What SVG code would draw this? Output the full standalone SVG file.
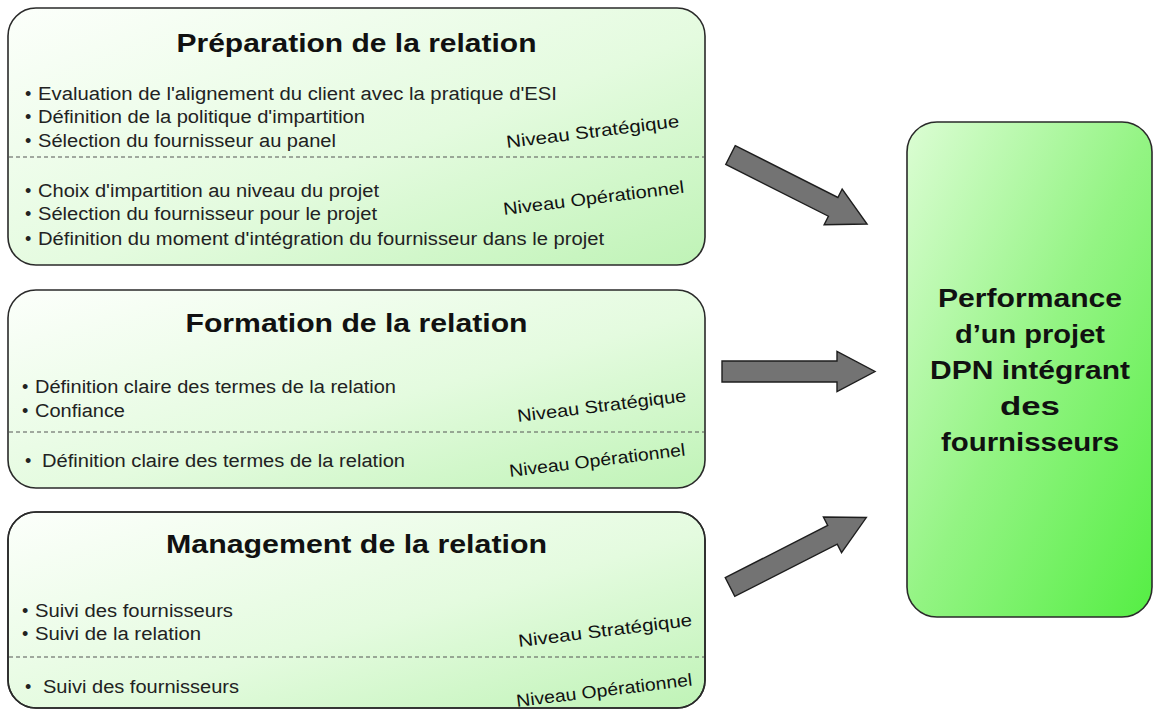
<svg xmlns="http://www.w3.org/2000/svg" width="1155" height="710" viewBox="0 0 1155 710">
<defs>
<style>
.box{stroke:#2a2a2a;stroke-width:1.6}
.lbox{fill:url(#gL)}
.title{font-family:"Liberation Sans",Arial,sans-serif;font-weight:bold;font-size:25px;fill:#111;text-anchor:middle}
.item{font-family:"Liberation Sans",Arial,sans-serif;font-size:18px;fill:#222}
.niv{font-family:"Liberation Sans",Arial,sans-serif;font-size:17.5px;fill:#111}
.dash{stroke:#555;stroke-width:1;stroke-dasharray:4 3;fill:none}
.big{font-family:"Liberation Sans",Arial,sans-serif;font-weight:bold;font-size:25px;fill:#111;text-anchor:middle}
.arrow{fill:#737373;stroke:#1e1e1e;stroke-width:1.4;stroke-linejoin:miter}
</style>
<linearGradient id="gL" x1="0" y1="0" x2="1" y2="1">
<stop offset="0" stop-color="#fcfffb"/>
<stop offset="0.55" stop-color="#e4fbdf"/>
<stop offset="1" stop-color="#bff3b6"/>
</linearGradient>
<linearGradient id="gR" x1="0" y1="0" x2="1" y2="1">
<stop offset="0" stop-color="#dcfdd4"/>
<stop offset="0.5" stop-color="#94f484"/>
<stop offset="1" stop-color="#55ee44"/>
</linearGradient>
<path id="arr" d="M0,-10.5 L115,-10.5 L115,-20 L153,0 L115,20 L115,10.5 L0,10.5 Z"/>
<clipPath id="c3"><rect x="8" y="512" width="697" height="196" rx="28"/></clipPath>
</defs>

<g id="preparation">
<rect class="box lbox" x="8" y="8" width="697" height="257" rx="28"/>
<text class="title" x="356.5" y="52" textLength="360" lengthAdjust="spacingAndGlyphs">Préparation de la relation</text>
<text class="item" x="25" y="100">•</text>
<text class="item" x="38" y="100" textLength="519" lengthAdjust="spacingAndGlyphs">Evaluation de l'alignement du client avec la pratique d'ESI</text>
<text class="item" x="25" y="123">•</text>
<text class="item" x="38" y="123" textLength="327" lengthAdjust="spacingAndGlyphs">Définition de la politique d'impartition</text>
<text class="item" x="25" y="147">•</text>
<text class="item" x="38" y="147" textLength="298" lengthAdjust="spacingAndGlyphs">Sélection du fournisseur au panel</text>
<text class="niv" x="507" y="148" transform="rotate(-7 507 148)" textLength="174" lengthAdjust="spacingAndGlyphs">Niveau Stratégique</text>
<line class="dash" x1="9" y1="157" x2="704" y2="157"/>
<text class="item" x="25" y="197">•</text>
<text class="item" x="38" y="197" textLength="341" lengthAdjust="spacingAndGlyphs">Choix d'impartition au niveau du projet</text>
<text class="item" x="25" y="220">•</text>
<text class="item" x="38" y="220" textLength="339" lengthAdjust="spacingAndGlyphs">Sélection du fournisseur pour le projet</text>
<text class="item" x="25" y="245">•</text>
<text class="item" x="38" y="245" textLength="566" lengthAdjust="spacingAndGlyphs">Définition du moment d'intégration du fournisseur dans le projet</text>
<text class="niv" x="504" y="215" transform="rotate(-7 504 215)" textLength="182" lengthAdjust="spacingAndGlyphs">Niveau Opérationnel</text>
</g>

<g id="formation">
<rect class="box lbox" x="8" y="290" width="697" height="198" rx="28"/>
<text class="title" x="356.5" y="332" textLength="342" lengthAdjust="spacingAndGlyphs">Formation de la relation</text>
<text class="item" x="22" y="393">•</text>
<text class="item" x="35" y="393" textLength="361" lengthAdjust="spacingAndGlyphs">Définition claire des termes de la relation</text>
<text class="item" x="22" y="417">•</text>
<text class="item" x="35" y="417" textLength="90" lengthAdjust="spacingAndGlyphs">Confiance</text>
<text class="niv" x="518" y="422" transform="rotate(-7 518 422)" textLength="170" lengthAdjust="spacingAndGlyphs">Niveau Stratégique</text>
<line class="dash" x1="9" y1="432" x2="704" y2="432"/>
<text class="item" x="25" y="467">•</text>
<text class="item" x="42" y="467" textLength="363" lengthAdjust="spacingAndGlyphs">Définition claire des termes de la relation</text>
<text class="niv" x="510" y="477" transform="rotate(-7 510 477)" textLength="177" lengthAdjust="spacingAndGlyphs">Niveau Opérationnel</text>
</g>

<g id="management">
<rect class="box lbox" x="8" y="512" width="697" height="196" rx="28"/>
<text class="title" x="356.5" y="553" textLength="381" lengthAdjust="spacingAndGlyphs">Management de la relation</text>
<text class="item" x="22" y="617">•</text>
<text class="item" x="35" y="617" textLength="198" lengthAdjust="spacingAndGlyphs">Suivi des fournisseurs</text>
<text class="item" x="22" y="640">•</text>
<text class="item" x="35" y="640" textLength="166" lengthAdjust="spacingAndGlyphs">Suivi de la relation</text>
<text class="niv" x="519" y="647" transform="rotate(-7 519 647)" textLength="175" lengthAdjust="spacingAndGlyphs">Niveau Stratégique</text>
<line class="dash" x1="9" y1="657" x2="704" y2="657"/>
<text class="item" x="25" y="693">•</text>
<text class="item" x="43" y="693" textLength="196" lengthAdjust="spacingAndGlyphs">Suivi des fournisseurs</text>
<g clip-path="url(#c3)">
<text class="niv" x="517" y="707" transform="rotate(-7 517 707)" textLength="177" lengthAdjust="spacingAndGlyphs">Niveau Opérationnel</text>
</g>
<rect x="8" y="512" width="697" height="196" rx="28" fill="none" class="box"/>
</g>

<g id="performance">
<rect class="box" x="907" y="122" width="245" height="495" rx="30" fill="url(#gR)" stroke-width="2"/>
<text class="big" x="1030" y="307" textLength="184" lengthAdjust="spacingAndGlyphs">Performance</text>
<text class="big" x="1030" y="343" textLength="150" lengthAdjust="spacingAndGlyphs">d’un projet</text>
<text class="big" x="1030" y="379" textLength="200" lengthAdjust="spacingAndGlyphs">DPN intégrant</text>
<text class="big" x="1030" y="415" textLength="60" lengthAdjust="spacingAndGlyphs">des</text>
<text class="big" x="1030" y="451" textLength="178" lengthAdjust="spacingAndGlyphs">fournisseurs</text>
</g>

<g id="connectors">
<use href="#arr" class="arrow" transform="translate(730.5 155) rotate(26.8)"/>
<use href="#arr" class="arrow" transform="translate(722 371.5)"/>
<use href="#arr" class="arrow" transform="translate(730 587) rotate(-27)"/>
</g>
</svg>
